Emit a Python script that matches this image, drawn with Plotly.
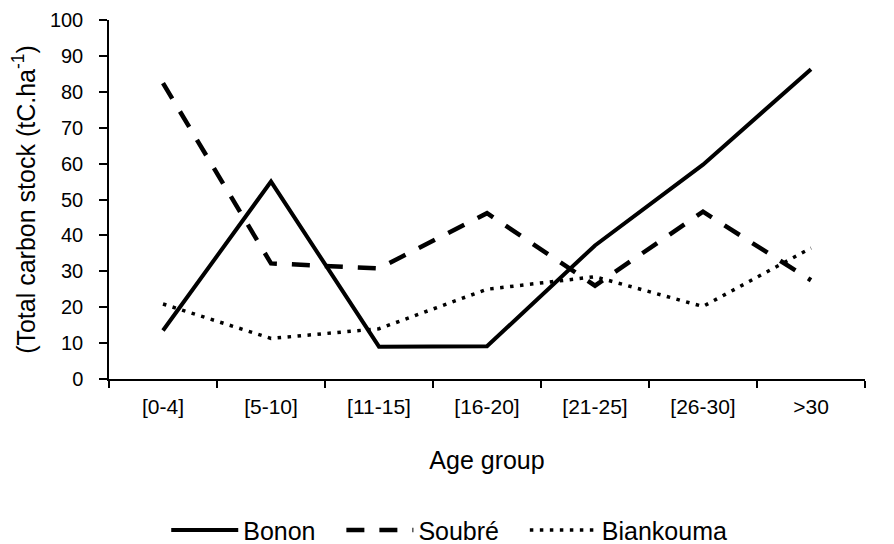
import plotly.graph_objects as go

categories = ["[0-4]", "[5-10]", "[11-15]", "[16-20]", "[21-25]", "[26-30]", ">30"]
bonon = [13.5, 55.0, 9.0, 9.1, 37.2, 59.7, 86.3]
soubre = [82.4, 32.2, 30.8, 46.2, 26.0, 46.6, 27.5]
biankouma = [20.9, 11.3, 14.0, 25.0, 28.5, 20.2, 36.5]
y_ticks = [0, 10, 20, 30, 40, 50, 60, 70, 80, 90, 100]
series_names = ["Bonon", "Soubré", "Biankouma"]

FONT = "Liberation Sans, Arial, sans-serif"
PAD = "\u00a0\u00a0\u00a0"  # spacing after legend entries

fig = go.Figure()
fig.add_trace(go.Scatter(x=categories, y=bonon, name=series_names[0] + PAD, mode="lines",
                         line=dict(color="black", width=4)))
fig.add_trace(go.Scatter(x=categories, y=soubre, name=series_names[1] + PAD, mode="lines",
                         line=dict(color="black", width=4.5, dash="18px,15px")))
fig.add_trace(go.Scatter(x=categories, y=biankouma, name=series_names[2], mode="lines",
                         line=dict(color="black", width=3.5, dash="3.5px,6.5px")))

fig.update_layout(
    width=894, height=544,
    paper_bgcolor="white", plot_bgcolor="white",
    margin=dict(l=101, r=37, t=12, b=173, autoexpand=False),
    font=dict(family=FONT, color="black", size=21),
    showlegend=True,
    legend=dict(orientation="h", xref="container", yref="container",
                x=0.177, xanchor="left", y=0.04, yanchor="middle",
                font=dict(size=25, family=FONT, color="black"),
                itemwidth=67,
                tracegroupgap=0, bgcolor="rgba(0,0,0,0)"),
    xaxis=dict(
        type="category", range=[-0.5, 6.5], automargin=False,
        showline=True, linecolor="black", linewidth=1.5,
        ticks="outside", tickson="boundaries", ticklen=7, tickcolor="black", tickwidth=1.5,
        ticklabelstandoff=8,
        showgrid=False, zeroline=False,
        tickfont=dict(size=21, family=FONT, color="black"),
        title=dict(text="Age group", font=dict(size=25, family=FONT, color="black"), standoff=35),
    ),
    yaxis=dict(
        range=[0, 100], tickvals=y_ticks, automargin=False,
        showline=True, linecolor="black", linewidth=1.5,
        ticks="outside", ticklen=8, tickcolor="black", tickwidth=1.5,
        ticklabelstandoff=12,
        showgrid=False, zeroline=False,
        tickfont=dict(size=20, family=FONT, color="black"),
        title=dict(text="(Total carbon stock (tC.ha<sup>-1</sup>)",
                   font=dict(size=25, family=FONT, color="black"), standoff=10),
    ),
)

fig.write_html("out.html")
